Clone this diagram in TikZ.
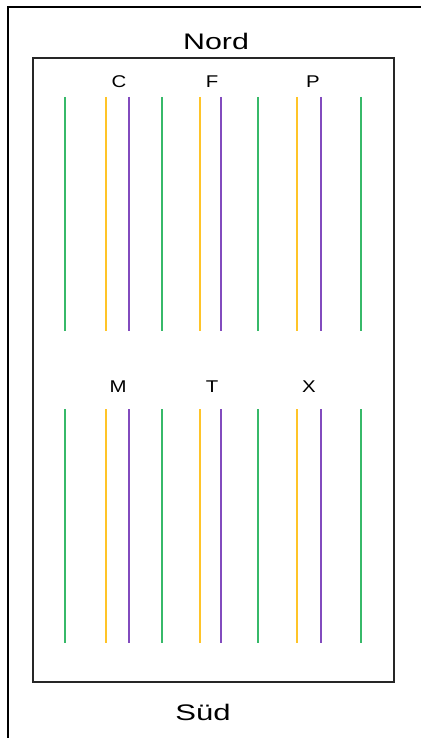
\documentclass[tikz,border=0pt]{standalone}
\usepackage{fontspec}
\setmainfont{Liberation Sans}
\definecolor{lgreen}{RGB}{55,185,105}
\definecolor{lyellow}{RGB}{255,196,40}
\definecolor{lpurple}{RGB}{130,75,190}
\newcommand{\widetext}[2]{\scalebox{#1}[1]{#2}}
\begin{document}
\begin{tikzpicture}[x=1pt,y=-1pt,
  frame/.style={line width=2pt,black!85},
  lane/.style={line width=2pt},
  gr/.style={lane,draw=lgreen},
  ye/.style={lane,draw=lyellow},
  pu/.style={lane,draw=lpurple},
  lab/.style={font=\fontsize{17}{17}\selectfont,inner sep=0pt},
  big/.style={font=\fontsize{22.5}{22.5}\selectfont,inner sep=0pt}]
\useasboundingbox (0,0) rectangle (421,738);
\coordinate (o1) at (8,738);
\coordinate (o2) at (8,7);
\coordinate (o3) at (421,7);
\draw[frame,black] (o1) -- (o2) -- (o3);
\draw[frame] (33,58) rectangle (393.5,682);
\node[big] (nord) at (216,41) {\widetext{1.35}{Nord}};
\node[big] (sued) at (203,712) {\widetext{1.38}{Süd}};
\foreach \ya/\yb in {97/331,409/643}{
  \foreach \xy in {106,200,297}{
    \draw[ye] (\xy,\ya) -- (\xy,\yb);
  }
  \foreach \xp in {129,221,321}{
    \draw[pu] (\xp,\ya) -- (\xp,\yb);
  }
  \foreach \xg in {65,162,258,361}{
    \draw[gr] (\xg,\ya) -- (\xg,\yb);
  }
}
\node[lab] (c) at (119,82) {\widetext{1.2}{C}};
\node[lab] (f) at (212,82) {\widetext{1.2}{F}};
\node[lab] (p) at (313,82) {\widetext{1.2}{P}};
\node[lab] (m) at (118,387) {\widetext{1.2}{M}};
\node[lab] (t) at (212,387) {\widetext{1.2}{T}};
\node[lab] (x) at (309,387) {\widetext{1.2}{X}};
\end{tikzpicture}
\end{document}
